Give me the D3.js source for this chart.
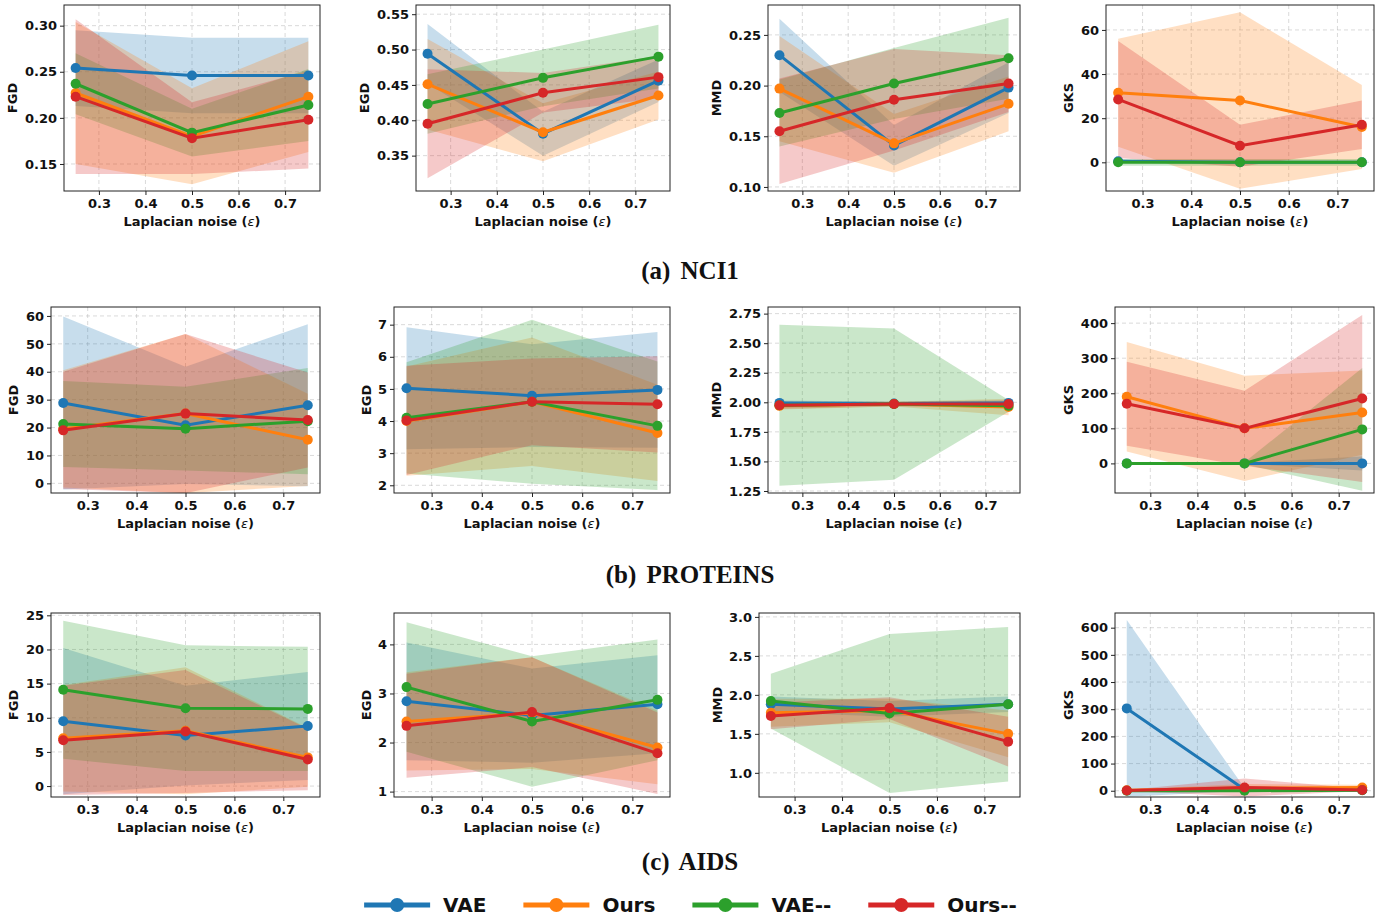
<!DOCTYPE html>
<html>
<head>
<meta charset="utf-8">
<script src="https://cdn.jsdelivr.net/npm/d3@7"></script>
<style>
  body { margin: 0; background: #fff; }
  text { font-family: "DejaVu Sans", sans-serif; font-weight: bold; }
</style>
</head>
<body>
<svg id="fig" width="1391" height="917"></svg>
<script>
// x values and series
const eps = [0.25, 0.5, 0.75];
const xTicks = [0.3, 0.4, 0.5, 0.6, 0.7];
const methods = ["VAE", "Ours", "VAE--", "Ours--"];
const colors = ["#1f77b4", "#ff7f0e", "#2ca02c", "#d62728"];
const metrics = ["FGD", "EGD", "MMD", "GKS"];
const datasets = ["NCI1", "PROTEINS", "AIDS"];
const captions = ["(a)", "(b)", "(c)"];

// each array: rows = VAE, Ours, VAE--, Ours--; columns = eps
const nci1FGDMean = [[0.254, 0.246, 0.246], [0.227, 0.180, 0.223], [0.237, 0.184, 0.214], [0.223, 0.178, 0.198]];
const nci1FGDStd  = [[0.041, 0.041, 0.041], [0.077, 0.052, 0.060], [0.033, 0.026, 0.039], [0.084, 0.039, 0.053]];
const nci1EGDMean = [[0.494, 0.381, 0.456], [0.451, 0.383, 0.435], [0.423, 0.460, 0.490], [0.395, 0.439, 0.461]];
const nci1EGDStd  = [[0.042, 0.031, 0.030], [0.064, 0.041, 0.034], [0.042, 0.040, 0.045], [0.077, 0.028, 0.030]];
const nci1MMDMean = [[0.230, 0.141, 0.198], [0.197, 0.143, 0.182], [0.173, 0.202, 0.227], [0.155, 0.186, 0.202]];
const nci1MMDStd  = [[0.036, 0.020, 0.025], [0.052, 0.029, 0.027], [0.033, 0.035, 0.040], [0.052, 0.050, 0.028]];
const nci1GKSMean = [[0.5, 0, 0], [31.5, 28, 16], [0, 0, 0], [28.5, 7.5, 17]];
const nci1GKSStd  = [[0.8, 0.3, 0.3], [24.5, 40, 19], [1.5, 1.5, 1.5], [26.5, 9.5, 11]];

const protFGDMean = [[28.8, 20.8, 28.0], [19.5, 25.0, 15.6], [21.3, 19.6, 22.3], [19.0, 25.0, 22.7]];
const protFGDStd  = [[31, 21, 29], [21, 28.5, 16.5], [15.4, 15, 19], [21, 28.5, 17]];
const protEGDMean = [[5.02, 4.79, 4.97], [4.00, 4.60, 3.63], [4.10, 4.60, 3.85], [4.02, 4.60, 4.52]];
const protEGDStd  = [[1.9, 1.6, 1.8], [1.7, 2.0, 1.5], [1.73, 2.55, 2.0], [1.7, 1.35, 1.5]];
const protMMDMean = [[1.995, 1.99, 1.995], [1.97, 1.985, 1.96], [1.975, 1.985, 1.97], [1.975, 1.985, 1.985]];
const protMMDStd  = [[0.02, 0.015, 0.02], [0.03, 0.02, 0.07], [0.68, 0.64, 0.05], [0.03, 0.02, 0.03]];
const protGKSMean = [[0, 0, 0], [190, 100, 145], [0, 0, 97], [170, 100, 185]];
const protGKSStd  = [[1, 1, 20], [156, 150, 120], [3, 3, 175], [120, 107, 238]];

const aidsFGDMean = [[9.5, 7.4, 8.8], [7.0, 8.1, 4.2], [14.1, 11.4, 11.3], [6.7, 8.0, 3.9]];
const aidsFGDStd  = [[10.7, 7.3, 7.9], [7.8, 9.3, 4.3], [10.1, 9.2, 9.1], [8.0, 9.0, 4.5]];
const aidsEGDMean = [[2.84, 2.55, 2.78], [2.43, 2.60, 1.90], [3.13, 2.43, 2.87], [2.34, 2.62, 1.78]];
const aidsEGDStd  = [[1.2, 0.96, 1.0], [1.0, 1.14, 0.75], [1.32, 1.33, 1.23], [1.06, 1.12, 0.83]];
const aidsMMDMean = [[1.88, 1.82, 1.88], [1.77, 1.80, 1.50], [1.92, 1.76, 1.88], [1.73, 1.83, 1.40]];
const aidsMMDStd  = [[0.1, 0.1, 0.1], [0.18, 0.15, 0.3], [0.35, 1.02, 0.99], [0.17, 0.14, 0.32]];
const aidsGKSMean = [[303, 5, 3], [2, 10, 12], [0, 0, 2], [1, 12, 3]];
const aidsGKSStd  = [[325, 5, 3], [3, 15, 10], [1, 1, 1], [2, 33, 5]];

// y axis ticks per panel
const yTicks = [
  [[0.15, 0.20, 0.25, 0.30], [0.35, 0.40, 0.45, 0.50, 0.55], [0.10, 0.15, 0.20, 0.25], [0, 20, 40, 60]],
  [[0, 10, 20, 30, 40, 50, 60], [2, 3, 4, 5, 6, 7], [1.25, 1.50, 1.75, 2.00, 2.25, 2.50, 2.75], [0, 100, 200, 300, 400]],
  [[0, 5, 10, 15, 20, 25], [1, 2, 3, 4], [1.0, 1.5, 2.0, 2.5, 3.0], [0, 100, 200, 300, 400, 500, 600]]
];
const yFormats = [
  [".2f", ".2f", ".2f", "d"],
  ["d", "d", ".2f", "d"],
  ["d", "d", ".1f", "d"]
];

const panelData = [
  [[nci1FGDMean, nci1FGDStd], [nci1EGDMean, nci1EGDStd], [nci1MMDMean, nci1MMDStd], [nci1GKSMean, nci1GKSStd]],
  [[protFGDMean, protFGDStd], [protEGDMean, protEGDStd], [protMMDMean, protMMDStd], [protGKSMean, protGKSStd]],
  [[aidsFGDMean, aidsFGDStd], [aidsEGDMean, aidsEGDStd], [aidsMMDMean, aidsMMDStd], [aidsGKSMean, aidsGKSStd]]
];

// axes view limits (matplotlib autoscaled)
const yDomains = [
  [[0.1207, 0.3224], [0.300, 0.563], [0.096, 0.2795], [-13, 71.3]],
  [[-3.45, 63.2], [1.76, 7.55], [1.233, 2.806], [-84.4, 446]],
  [[-1.6, 25.34], [0.89, 4.64], [0.69, 3.05], [-23, 654]]
];

// layout
const rowTop = [5, 307, 613];
const rowBottom = [191, 493, 797];
const colLeft = [[64, 416, 768, 1106], [51, 394, 768, 1115], [51, 394, 759, 1115]];
const colRight = [320, 670, 1020, 1374];
const captionY = [279, 583, 870];

const svg = d3.select("#fig");

function drawPanel(r, c) {
  const left = colLeft[r][c], right = colRight[c];
  const top = rowTop[r], bottom = rowBottom[r];
  const [means, stds] = panelData[r][c];

  const x = d3.scaleLinear().domain([0.225, 0.775]).range([left, right]);
  const y = d3.scaleLinear().domain(yDomains[r][c]).range([bottom, top]);

  const g = svg.append("g");
  const clipId = `clip-${r}-${c}`;
  g.append("clipPath").attr("id", clipId)
    .append("rect").attr("x", left).attr("y", top)
    .attr("width", right - left).attr("height", bottom - top);

  // grid
  const grid = g.append("g").attr("stroke", "#b0b0b0").attr("stroke-opacity", 0.6)
    .attr("stroke-width", 0.8).attr("stroke-dasharray", "4,3");
  grid.selectAll(".gx").data(xTicks).join("line")
    .attr("x1", d => x(d)).attr("x2", d => x(d)).attr("y1", top).attr("y2", bottom);
  grid.selectAll(".gy").data(yTicks[r][c]).join("line")
    .attr("y1", d => y(d)).attr("y2", d => y(d)).attr("x1", left).attr("x2", right);

  const plot = g.append("g").attr("clip-path", `url(#${clipId})`);

  // bands first
  means.forEach((m, k) => {
    const area = d3.area()
      .x((d, i) => x(eps[i]))
      .y0((d, i) => y(m[i] - stds[k][i]))
      .y1((d, i) => y(m[i] + stds[k][i]));
    plot.append("path").datum(m).attr("d", area)
      .attr("fill", colors[k]).attr("fill-opacity", 0.25);
  });

  // lines and markers on top
  means.forEach((m, k) => {
    const line = d3.line().x((d, i) => x(eps[i])).y(d => y(d));
    plot.append("path").datum(m).attr("d", line)
      .attr("fill", "none").attr("stroke", colors[k]).attr("stroke-width", 3);
    plot.selectAll(null).data(m).join("circle")
      .attr("cx", (d, i) => x(eps[i])).attr("cy", d => y(d)).attr("r", 5)
      .attr("fill", colors[k]);
  });

  // spines
  g.append("rect").attr("x", left).attr("y", top)
    .attr("width", right - left).attr("height", bottom - top)
    .attr("fill", "none").attr("stroke", "#222").attr("stroke-width", 1);

  const xAxis = g.append("g").attr("transform", `translate(0,${bottom})`)
    .call(d3.axisBottom(x).tickValues(xTicks).tickFormat(d3.format(".1f"))
      .tickSize(4).tickSizeOuter(0).tickPadding(4));
  const yAxis = g.append("g").attr("transform", `translate(${left},0)`)
    .call(d3.axisLeft(y).tickValues(yTicks[r][c]).tickFormat(d3.format(yFormats[r][c]))
      .tickSize(4).tickSizeOuter(0).tickPadding(3));
  [xAxis, yAxis].forEach(a => {
    a.select(".domain").remove();
    a.selectAll("text").attr("font-size", 13).attr("fill", "#111")
      .attr("font-family", "DejaVu Sans").attr("font-weight", "bold");
    a.selectAll("line").attr("stroke", "#222");
  });

  let maxW = 0;
  yAxis.selectAll("text").each(function () {
    maxW = Math.max(maxW, this.getComputedTextLength());
  });

  const xl = g.append("text").attr("x", (left + right) / 2).attr("y", bottom + 35)
    .attr("text-anchor", "middle").attr("font-size", 13).attr("fill", "#111");
  xl.append("tspan").text("Laplacian noise (");
  xl.append("tspan").attr("font-style", "italic").attr("font-weight", "normal").text("ε");
  xl.append("tspan").text(")");

  const lx = left - 7 - maxW - 12;
  g.append("text").attr("transform", `translate(${lx},${(top + bottom) / 2}) rotate(-90)`)
    .attr("text-anchor", "middle").attr("dy", "0.35em")
    .attr("font-size", 13).attr("fill", "#111").text(metrics[c]);
}

datasets.forEach((ds, r) => {
  metrics.forEach((m, c) => drawPanel(r, c));
  const t = svg.append("text").attr("x", 690).attr("y", captionY[r])
    .attr("text-anchor", "middle")
    .style("font-family", "'Liberation Serif', 'Times New Roman', serif")
    .attr("font-size", 25).attr("fill", "#111");
  t.append("tspan").text(captions[r] + " ");
  t.append("tspan").attr("dx", 4).text(ds);
});

// legend
const legend = svg.append("g");
const legY = 905, handleW = 66, textGap = 13, itemGap = 37;
const labels = methods.map(name => {
  const t = legend.append("text").attr("font-size", 20).attr("fill", "#111")
    .attr("dy", "0.35em").attr("y", legY).text(name);
  return t;
});
const widths = labels.map(t => t.node().getComputedTextLength());
const total = methods.length * (handleW + textGap) + d3.sum(widths) + (methods.length - 1) * itemGap;
let cx = 690.5 - total / 2;
methods.forEach((name, k) => {
  legend.append("line").attr("x1", cx).attr("x2", cx + handleW)
    .attr("y1", legY).attr("y2", legY)
    .attr("stroke", colors[k]).attr("stroke-width", 5);
  legend.append("circle").attr("cx", cx + handleW / 2).attr("cy", legY).attr("r", 7)
    .attr("fill", colors[k]);
  labels[k].attr("x", cx + handleW + textGap);
  cx += handleW + textGap + widths[k] + itemGap;
});
</script>
</body>
</html>
